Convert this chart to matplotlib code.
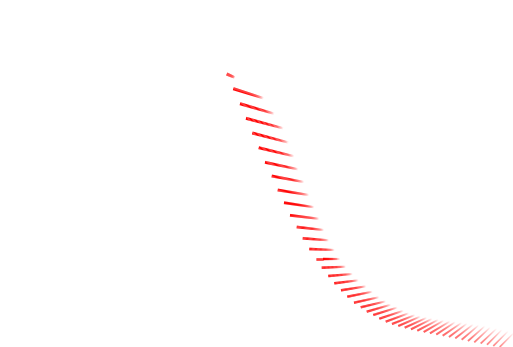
import numpy as np
import matplotlib
matplotlib.use('Agg')
import matplotlib.pyplot as plt
from matplotlib.collections import LineCollection

# head of each streak (image-like units, y grows downward)
head_x = [226.7, 233.3, 240.0, 246.0, 252.3, 258.7, 265.0, 271.7, 277.7, 284.0,
          290.0, 296.7, 302.7, 309.3, 315.7, 321.7, 328.3, 334.3, 341.0, 347.3,
          354.0, 360.7, 366.7, 373.3, 379.3, 385.7, 392.0, 398.3, 404.7, 411.0,
          417.3, 423.7, 430.0, 436.3, 442.7, 449.0, 455.3, 461.7, 468.0, 474.3,
          480.7, 487.0, 493.3, 499.7]
head_y = [74, 88.7, 103.7, 118.3, 133, 147.7, 162.3, 176, 190, 202.7,
          215.3, 227, 238.3, 249, 258.7, 267.7, 276, 283.3, 290.3, 296.7,
          302.7, 307.3, 311.7, 315, 318.7, 321.7, 324, 326, 327.7, 329.3,
          330.7, 332, 333.3, 334.5, 335.7, 337, 338.3, 339.7, 341, 342.3,
          343.5, 344.7, 346, 347]
# streak extent (tail minus head)
tail_dx = [8, 30, 34, 37, 36, 35, 33, 32, 31, 30,
           29, 27, 26, 25, 24, 24, 24, 24, 25, 25,
           25, 25, 24, 24, 24, 23, 23, 22, 22, 21,
           21, 20, 20, 19, 19, 18, 18, 17, 17, 16,
           16, 15, 15, 14]
tail_dy = [3.5, 9.5, 10, 10, 9.5, 8.5, 7, 6, 5, 4.5,
           3.5, 3, 2, 1, 0, -1, -2, -3, -4, -5,
           -5.5, -6, -7, -7.5, -8, -8.5, -9, -9.5, -10, -10.5,
           -11, -11.5, -12, -12.5, -13, -13.5, -14, -14.5, -15, -15,
           -15, -15, -15, -14]

fig = plt.figure(figsize=(5.13, 3.47), dpi=100)
ax = fig.add_axes([0, 0, 1, 1])
ax.set_xlim(0, 513)
ax.set_ylim(347, 0)
ax.axis('off')

n = len(head_x)
nseg = 30
segs, cols, lws = [], [], []
for i in range(n):
    f = i / (n - 1)
    a0 = 1.0 if f < 0.4 else 1.0 - 0.5 * (f - 0.4) / 0.6
    p = 5.0 - 3.8 * f
    lw = 2.3 - 1.1 * f
    s = np.linspace(0, 1, nseg + 1)
    xs = head_x[i] + tail_dx[i] * s
    ys = head_y[i] + tail_dy[i] * s
    for k in range(nseg):
        sm = (s[k] + s[k + 1]) / 2
        alpha = a0 * (1 - sm ** p)
        segs.append([(xs[k], ys[k]), (xs[k + 1], ys[k + 1])])
        cols.append((1, 0, 0, max(alpha, 0)))
        lws.append(lw * (1 - 0.25 * sm))

lc = LineCollection(segs, colors=cols, linewidths=lws, capstyle='butt')
ax.add_collection(lc)

plt.savefig('out.png', dpi=100)
